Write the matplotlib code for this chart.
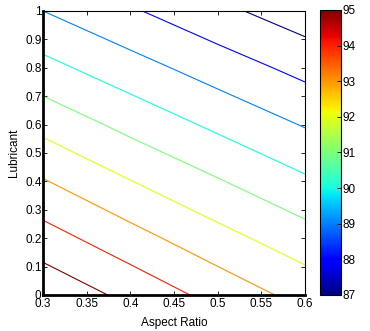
import numpy as np
import matplotlib
matplotlib.use('Agg')
import matplotlib.pyplot as plt
from matplotlib import cm, colors

plt.rcParams['font.family'] = ['Liberation Sans', 'DejaVu Sans']

# grid
aspect_ratio = [0.3, 0.4, 0.5, 0.6]
lubricant = [0.0, 0.2, 0.4, 0.6, 0.8, 1.0]
# rows = lubricant, cols = aspect ratio
response = [
    [95.77, 94.73, 93.66, 92.65],
    [94.43, 93.37, 92.35, 91.42],
    [93.07, 92.03, 91.08, 90.16],
    [91.69, 90.70, 89.79, 88.93],
    [90.31, 89.40, 88.53, 87.69],
    [89.00, 88.12, 87.25, 86.43],
]
levels = [87, 88, 89, 90, 91, 92, 93, 94, 95]

x_ticks = [0.3, 0.35, 0.4, 0.45, 0.5, 0.55, 0.6]
x_labels = ['0.3', '0.35', '0.4', '0.45', '0.5', '0.55', '0.6']
y_ticks = [0, 0.1, 0.2, 0.3, 0.4, 0.5, 0.6, 0.7, 0.8, 0.9, 1]
y_labels = ['0', '0.1', '0.2', '0.3', '0.4', '0.5', '0.6', '0.7', '0.8', '0.9', '1']

fig = plt.figure(figsize=(3.7, 3.31), dpi=100)
ax = fig.add_axes([0.1162, 0.1088, 0.708, 0.858])

norm = colors.Normalize(vmin=87, vmax=95)
X, Y = np.meshgrid(aspect_ratio, lubricant)
ax.contour(X, Y, np.array(response), levels=levels, cmap='jet', norm=norm,
           linewidths=0.8)

ax.set_xlim(0.3, 0.6)
ax.set_ylim(0, 1)
ax.set_xticks(x_ticks)
ax.set_xticklabels(x_labels)
ax.set_yticks(y_ticks)
ax.set_yticklabels(y_labels)
ax.tick_params(direction='in', length=3, width=0.6, labelsize=8.5, pad=1,
               top=True, right=True)
ax.tick_params(axis='x', pad=2)
ax.set_xlabel('Aspect Ratio', fontsize=8.5, labelpad=5)
ax.set_ylabel('Lubricant', fontsize=8.5, labelpad=4)
for side in ['left', 'bottom']:
    ax.spines[side].set_linewidth(2)
for side in ['top', 'right']:
    ax.spines[side].set_linewidth(0.8)

cax = fig.add_axes([0.8649, 0.1088, 0.0568, 0.861])
sm = cm.ScalarMappable(norm=norm, cmap='jet')
cb = fig.colorbar(sm, cax=cax, ticks=levels)
cb.ax.tick_params(direction='in', length=3, width=0.6, labelsize=8.5, pad=1)
cb.outline.set_linewidth(0.8)

plt.savefig('out.png', dpi=100)
